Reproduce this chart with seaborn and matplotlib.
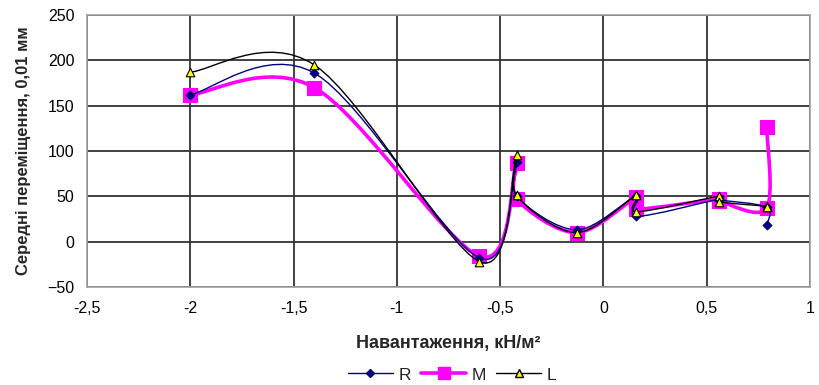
import numpy as np
import matplotlib
matplotlib.use("Agg")
import matplotlib.pyplot as plt
from matplotlib.path import Path
from matplotlib.patches import PathPatch
from matplotlib.lines import Line2D
import seaborn as sns

# ---- data ----
x_load = [-2.0, -1.4, -0.6, -0.42, -0.42, -0.13, 0.16, 0.16, 0.56, 0.56, 0.79, 0.79]
r_vals = [162, 186, -18, 88, 50, 13, 50, 28, 47, 46, 38, 18]
m_vals = [162, 170, -16, 87, 47, 10, 49, 36, 47, 45, 37, 127]
l_vals = [187, 195, -22, 96, 51, 10, 51, 33, 50, 44, 39, 38]
series_names = ["R", "M", "L"]
x_ticks = [-2.5, -2.0, -1.5, -1.0, -0.5, 0.0, 0.5, 1.0]
x_tick_labels = ["-2,5", "-2", "-1,5", "-1", "-0,5", "0", "0,5", "1"]
y_ticks = [-50, 0, 50, 100, 150, 200, 250]
x_label = "Навантаження, кН/м²"
y_label = "Середні переміщення, 0,01 мм"

sns.set_theme(style="white")
plt.rcParams["font.family"] = ["Liberation Sans", "DejaVu Sans"]

fig = plt.figure(figsize=(8.19, 3.85), dpi=100)
ax = fig.add_axes([87 / 819, 1 - 287 / 385, (810 - 87) / 819, (287 - 15) / 385])


def smooth_path(xs, ys):
    pts = np.column_stack([xs, ys]).astype(float)
    n = len(pts)
    verts = [pts[0]]
    codes = [Path.MOVETO]
    for i in range(n - 1):
        p0 = pts[max(i - 1, 0)]
        p1 = pts[i]
        p2 = pts[i + 1]
        p3 = pts[min(i + 2, n - 1)]
        c1 = p1 + (p2 - p0) / 6.0
        c2 = p2 - (p3 - p1) / 6.0
        verts += [c1, c2, p2]
        codes += [Path.CURVE4] * 3
    return Path(verts, codes)


styles = {
    "R": dict(vals=r_vals, color="#000080", lw=1.0, marker="D", ms=20, mfc="#000080", mec="#000080", z=4),
    "M": dict(vals=m_vals, color="#FF00FF", lw=2.6, marker="s", ms=100, mfc="#FF00FF", mec="#FF00FF", z=3),
    "L": dict(vals=l_vals, color="#000000", lw=1.0, marker="^", ms=38, mfc="#FFFF00", mec="#000000", z=5),
}

for name in series_names:
    st = styles[name]
    patch = PathPatch(smooth_path(x_load, st["vals"]), facecolor="none",
                      edgecolor=st["color"], lw=st["lw"], zorder=st["z"])
    ax.add_patch(patch)
    sns.scatterplot(x=x_load, y=st["vals"], ax=ax, marker=st["marker"], s=st["ms"],
                    color=st["mfc"], edgecolor=st["mec"], linewidth=0.8,
                    zorder=st["z"] + 0.5, legend=False)

ax.set_xlim(-2.5, 1.0)
ax.set_ylim(-50, 250)
ax.set_xticks(x_ticks)
ax.set_xticklabels(x_tick_labels)
ax.set_yticks(y_ticks)
ax.grid(True, color="#333333", lw=1.3)
ax.set_axisbelow(True)
for sp in ax.spines.values():
    sp.set_color("#a0a0a0")
    sp.set_linewidth(1.2)
ax.tick_params(axis="both", labelsize=11.5, length=0, colors="black")
ax.tick_params(axis="x", pad=10)
ax.tick_params(axis="y", pad=9)
ax.set_xlabel(x_label, fontsize=13, fontweight="bold", labelpad=14)
ax.set_ylabel(y_label, fontsize=12, fontweight="bold", labelpad=12)

handles = [
    Line2D([], [], color="#000080", lw=1.0, marker="D", ms=4, mfc="#000080", mec="#000080"),
    Line2D([], [], color="#FF00FF", lw=2.6, marker="s", ms=8.5, mfc="#FF00FF", mec="#FF00FF"),
    Line2D([], [], color="#000000", lw=1.0, marker="^", ms=6, mfc="#FFFF00", mec="#000000"),
]
fig.legend(handles, series_names, loc="center", bbox_to_anchor=(452 / 819, 1 - 375 / 385),
           ncol=3, frameon=False, fontsize=12.5, handlelength=2.6, columnspacing=0.6,
           handletextpad=0.3)

fig.savefig("out.png", dpi=100)
